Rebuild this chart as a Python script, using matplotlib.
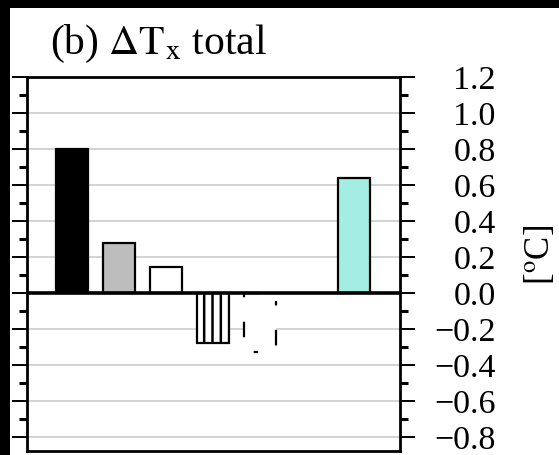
import numpy as np
import matplotlib
import matplotlib.pyplot as plt
from matplotlib.patches import Rectangle

matplotlib.rcParams['font.family'] = 'Liberation Serif'
matplotlib.rcParams['mathtext.fontset'] = 'stix'
matplotlib.rcParams['hatch.linewidth'] = 1.8

# bar values, one slot per experiment (slot 6 is empty)
values = [0.80, 0.274, 0.14, -0.28, -0.33, None, 0.635]
fills = ['black', '#bdbdbd', 'white', 'white', 'white', 'white', '#a3ede2']
hatches = ['', '', '', '||', '', '', '']
styles = ['-', '-', '-', '-', (0, (7, 11, 2, 11)), '-', '-']
yticks = [-0.8, -0.6, -0.4, -0.2, 0.0, 0.2, 0.4, 0.6, 0.8, 1.0, 1.2]
ylabels = ['\u22120.8', '\u22120.6', '\u22120.4', '\u22120.2', '0.0', '0.2', '0.4',
           '0.6', '0.8', '1.0', '1.2']

fig = plt.figure(figsize=(5.59, 4.56), dpi=100)
fig.patch.set_facecolor('black')
# white panel inside the black frame
fig.patches.append(Rectangle((10 / 559, 0), 1, 1 - 9 / 456, transform=fig.transFigure,
                             facecolor='white', edgecolor='none', zorder=-5))

ax = fig.add_axes([27 / 559, 4 / 456, 373 / 559, 374.5 / 456])
ax.set_facecolor('white')

x = np.arange(len(values))
for i, v in enumerate(values):
    if v is None:
        continue
    ax.bar(x[i], v, width=0.68, color=fills[i], edgecolor='black', linewidth=1.6,
           hatch=hatches[i], linestyle=styles[i], zorder=3)

ax.axhline(0, color='black', lw=2.6, zorder=4)
for t in yticks:
    if t != 0:
        ax.axhline(t, color='#cccccc', lw=1.2, zorder=1)

ax.set_xlim(-0.95, 6.98)
ax.set_ylim(-0.88, 1.2)
ax.set_xticks([])
ax.set_yticks(yticks)
ax.set_yticks(np.arange(-0.8, 1.2, 0.1), minor=True)
ax.set_yticklabels(ylabels)
ax.yaxis.set_ticks_position('both')
ax.tick_params(axis='y', which='major', direction='out', length=11, width=1.4,
               labelleft=False, labelright=True, labelsize=24.5, pad=58)
ax.tick_params(axis='y', which='minor', direction='out', length=6, width=2.2)
for lab in ax.get_yticklabels():
    lab.set_horizontalalignment('right')
for s in ax.spines.values():
    s.set_linewidth(2)

fig.text(50 / 559, 1 - 54 / 456, r'(b) $\Delta\mathrm{T_x}$ total', fontsize=30,
         ha='left', va='baseline')
fig.text(540 / 559, 1 - 255 / 456, r'[$^\mathrm{o}$C]', fontsize=25, rotation=90,
         ha='center', va='center')

fig.savefig('out.png', dpi=100, facecolor=fig.get_facecolor())
